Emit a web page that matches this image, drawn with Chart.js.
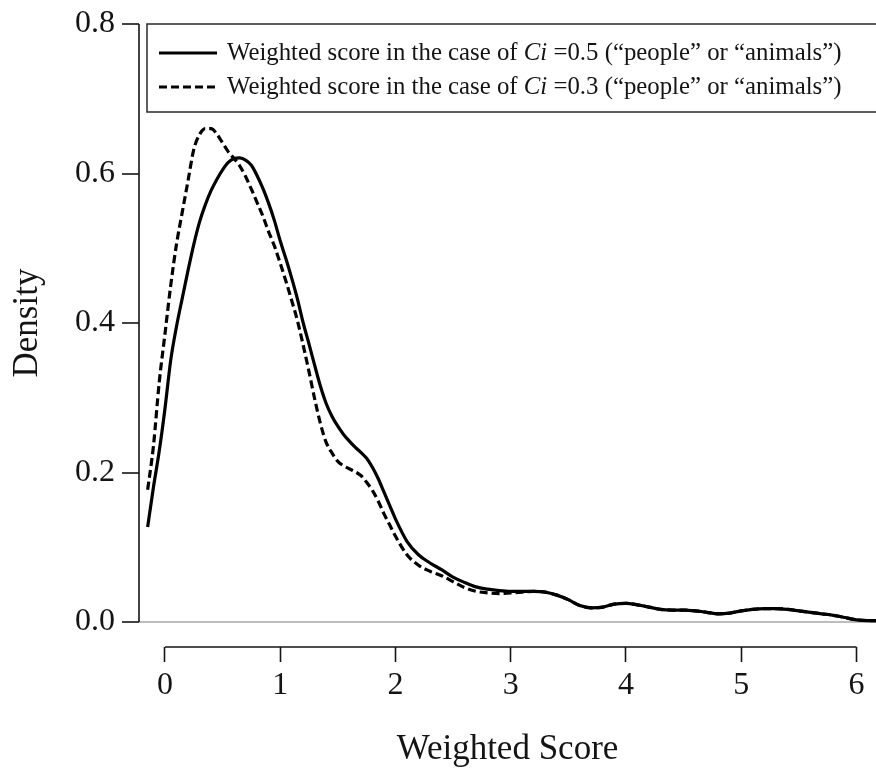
<!DOCTYPE html>
<html>
<head>
<meta charset="utf-8">
<script src="https://cdn.jsdelivr.net/npm/chart.js@4.4.1/dist/chart.umd.min.js"></script>
<style>
  html, body { margin: 0; padding: 0; background: #ffffff; }
  canvas { display: block; }
</style>
</head>
<body>
<canvas id="density" width="876" height="770"></canvas>
<script>
// Weighted score grid (x) and kernel density estimates for the two Ci settings
const scores = [
  -0.15, -0.1, -0.05, 0, 0.05, 0.1, 0.15, 0.2, 0.25, 0.3, 0.35, 0.4, 0.45, 0.5, 0.55,
  0.6, 0.65, 0.7, 0.75, 0.8, 0.85, 0.9, 0.95, 1, 1.05, 1.1, 1.15, 1.2, 1.25, 1.3,
  1.35, 1.4, 1.45, 1.5, 1.55, 1.6, 1.65, 1.7, 1.75, 1.8, 1.85, 1.9, 1.95, 2,
  2.1, 2.2, 2.3, 2.4, 2.5, 2.6, 2.7, 2.8, 2.9, 3, 3.1, 3.2, 3.3, 3.4, 3.5, 3.6,
  3.7, 3.8, 3.9, 4, 4.1, 4.2, 4.3, 4.4, 4.5, 4.6, 4.7, 4.8, 4.9, 5, 5.1, 5.2,
  5.3, 5.4, 5.5, 5.6, 5.7, 5.8, 5.9, 6, 6.1, 6.17
];

const densityCi05 = [
  0.127, 0.18, 0.228, 0.285, 0.35, 0.395, 0.433, 0.47, 0.505, 0.535, 0.558, 0.577, 0.592, 0.605, 0.615,
  0.62, 0.621, 0.618, 0.611, 0.597, 0.58, 0.56, 0.537, 0.51, 0.486, 0.46, 0.432, 0.40, 0.372, 0.343,
  0.315, 0.292, 0.275, 0.262, 0.251, 0.242, 0.234, 0.227, 0.219, 0.207, 0.192, 0.174, 0.156, 0.138,
  0.108, 0.090, 0.079, 0.070, 0.060, 0.053, 0.047, 0.044, 0.042, 0.041, 0.041, 0.041, 0.040, 0.036, 0.030, 0.022,
  0.019, 0.020, 0.024, 0.025, 0.023, 0.020, 0.017, 0.016, 0.016, 0.015, 0.013, 0.011, 0.012, 0.015, 0.017, 0.018,
  0.018, 0.017, 0.015, 0.013, 0.011, 0.009, 0.006, 0.003, 0.002, 0.002
];

const densityCi03 = [
  0.177, 0.235, 0.32, 0.385, 0.45, 0.505, 0.548, 0.59, 0.632, 0.652, 0.66, 0.66, 0.653, 0.641, 0.629,
  0.62, 0.61, 0.596, 0.579, 0.561, 0.543, 0.522, 0.503, 0.48, 0.456, 0.43, 0.403, 0.37, 0.335, 0.298,
  0.265, 0.24, 0.226, 0.215, 0.209, 0.205, 0.201, 0.196, 0.187, 0.176, 0.162, 0.145, 0.13, 0.115,
  0.090, 0.076, 0.068, 0.062, 0.054, 0.046, 0.041, 0.039, 0.038, 0.039, 0.040, 0.041, 0.040, 0.036, 0.030, 0.022,
  0.019, 0.020, 0.024, 0.025, 0.023, 0.020, 0.017, 0.016, 0.016, 0.015, 0.013, 0.011, 0.012, 0.015, 0.017, 0.018,
  0.018, 0.017, 0.015, 0.013, 0.011, 0.009, 0.006, 0.003, 0.002, 0.002
];

const xTickValues = [0, 1, 2, 3, 4, 5, 6];
const yTickValues = [0, 0.2, 0.4, 0.6, 0.8];

const seriesLabels = [
  'Weighted score in the case of Ci =0.5 (“people” or “animals”)',
  'Weighted score in the case of Ci =0.3 (“people” or “animals”)'
];
const xTitle = 'Weighted Score';
const yTitle = 'Density';

const SERIF = "'Liberation Serif', 'Times New Roman', serif";
const INK = '#141414';

const toPoints = (ys) => scores.map((x, i) => ({ x, y: ys[i] }));
const keepTicks = (wanted) => (scale) => {
  scale.ticks = wanted.map(v => ({ value: v }));
};

// R-style axes: lines run only between the first and last tick; y title centred on the tick range
const axisLines = {
  id: 'axisLines',
  afterDraw(chart) {
    const { ctx, chartArea } = chart;
    const xs = chart.scales.x, ys = chart.scales.y;
    const yLo = ys.getPixelForValue(yTickValues[0]);
    const yHi = ys.getPixelForValue(yTickValues[yTickValues.length - 1]);
    ctx.save();
    ctx.strokeStyle = INK;
    ctx.lineWidth = 1.6;
    ctx.lineCap = 'butt';
    ctx.beginPath();
    ctx.moveTo(chartArea.left, yLo);
    ctx.lineTo(chartArea.left, yHi);
    ctx.moveTo(xs.getPixelForValue(xTickValues[0]), chartArea.bottom);
    ctx.lineTo(xs.getPixelForValue(xTickValues[xTickValues.length - 1]), chartArea.bottom);
    ctx.stroke();

    ctx.translate(28, (yLo + yHi) / 2);
    ctx.rotate(-Math.PI / 2);
    ctx.fillStyle = INK;
    ctx.font = `35px ${SERIF}`;
    ctx.textAlign = 'center';
    ctx.textBaseline = 'middle';
    ctx.fillText(yTitle, 0, 0);
    ctx.restore();
  }
};

// Boxed legend with italic "Ci"
const boxedLegend = {
  id: 'boxedLegend',
  afterDraw(chart) {
    const { ctx, chartArea } = chart;
    const left = chartArea.left + 8;
    const top = chartArea.top;
    const height = 88;
    ctx.save();
    ctx.strokeStyle = '#2a2a2a';
    ctx.lineWidth = 1.5;
    ctx.strokeRect(left, top, chart.width + 10 - left, height);

    const rows = [top + 29, top + 63];
    const fontSize = 24.8;
    chart.data.datasets.forEach((ds, i) => {
      const y = rows[i];
      ctx.strokeStyle = '#000';
      ctx.lineWidth = ds.borderWidth;
      ctx.setLineDash(ds.borderDash || []);
      ctx.beginPath();
      ctx.moveTo(left + 12, y);
      ctx.lineTo(left + 70, y);
      ctx.stroke();
      ctx.setLineDash([]);

      const parts = ds.label.split('Ci');
      let x = left + 80;
      ctx.fillStyle = INK;
      ctx.textBaseline = 'middle';
      ctx.textAlign = 'left';
      ctx.font = `${fontSize}px ${SERIF}`;
      ctx.fillText(parts[0], x, y);
      x += ctx.measureText(parts[0]).width;
      ctx.font = `italic ${fontSize}px ${SERIF}`;
      ctx.fillText('Ci', x, y);
      x += ctx.measureText('Ci').width;
      ctx.font = `${fontSize}px ${SERIF}`;
      ctx.fillText(parts[1], x, y);
    });
    ctx.restore();
  }
};

new Chart(document.getElementById('density'), {
  type: 'scatter',
  data: {
    datasets: [
      {
        label: seriesLabels[0],
        data: toPoints(densityCi05),
        showLine: true,
        borderColor: '#000',
        borderWidth: 3.2,
        pointRadius: 0,
        cubicInterpolationMode: 'monotone'
      },
      {
        label: seriesLabels[1],
        data: toPoints(densityCi03),
        showLine: true,
        borderColor: '#000',
        borderWidth: 3.2,
        borderDash: [8, 4],
        pointRadius: 0,
        cubicInterpolationMode: 'monotone'
      }
    ]
  },
  options: {
    responsive: false,
    animation: false,
    devicePixelRatio: 1,
    layout: { padding: { top: 24, right: 0, bottom: 0, left: 0 } },
    plugins: {
      legend: { display: false },
      tooltip: { enabled: false }
    },
    scales: {
      x: {
        type: 'linear',
        min: -0.225,
        max: 6.17,
        afterBuildTicks: keepTicks(xTickValues),
        afterFit: (scale) => { scale.height = 123; },
        border: { display: false },
        grid: {
          drawOnChartArea: false,
          drawTicks: true,
          tickLength: 15,
          tickColor: INK,
          tickWidth: 1.6
        },
        ticks: {
          padding: 8,
          color: INK,
          maxRotation: 0,
          font: { family: SERIF, size: 32, lineHeight: 1 },
          callback: (v) => String(v)
        },
        title: {
          display: true,
          text: xTitle,
          color: INK,
          padding: { top: 0, bottom: 3 },
          font: { family: SERIF, size: 35, lineHeight: 1 }
        }
      },
      y: {
        type: 'linear',
        min: -0.0334,
        max: 0.8,
        afterBuildTicks: keepTicks(yTickValues),
        afterFit: (scale) => { scale.width = 139; },
        border: { display: false },
        grid: {
          drawOnChartArea: true,
          color: (c) => (c.tick && c.tick.value === 0 ? '#bdbdbd' : 'rgba(0,0,0,0)'),
          lineWidth: 2,
          drawTicks: true,
          tickLength: 17,
          tickColor: INK,
          tickWidth: 1.6
        },
        ticks: {
          padding: 7,
          color: INK,
          font: { family: SERIF, size: 32, lineHeight: 1 },
          callback: (v) => Number(v).toFixed(1)
        },
        title: { display: false }
      }
    }
  },
  plugins: [axisLines, boxedLegend]
});
</script>
</body>
</html>
